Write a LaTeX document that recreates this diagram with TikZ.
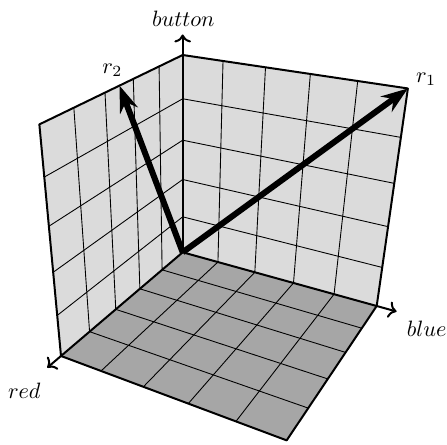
\documentclass[tikz,border=0pt]{standalone}
\usetikzlibrary{arrows.meta}

% point (x,y,z) of the unit cube, seen in perspective (picture units are pixels)
\newcommand{\setpt}[4]{%
  \pgfmathsetmacro\pw{1-0.185*(#2)-0.112*(#3)-0.123*(#4)}%
  \pgfmathsetmacro\px{182.7+(-99.19*(#2)+172.27*(#3))/\pw}%
  \pgfmathsetmacro\py{252.3+(84.52*(#2)+47.69*(#3)-173.03*(#4))/\pw}%
  \coordinate (#1) at (\px,\py);}

\begin{document}
\begin{tikzpicture}[
  x=0.45pt, y=-0.45pt,
  wall/.style={fill=black!14},
  floor/.style={fill=black!35},
  gridline/.style={line width=0.4pt},
  edge/.style={line width=0.9pt, line join=round},
  axis/.style={line width=0.9pt, -{To}},
  vec/.style={line width=2.7pt, -{Stealth[length=12pt, width=8.5pt, inset=4pt]}}
]
\useasboundingbox (0,0) rectangle (447,445);

% corners of the box
\setpt{O}{0}{0}{0}
\setpt{X}{1}{0}{0}
\setpt{Y}{0}{1}{0}
\setpt{Z}{0}{0}{1}
\setpt{XY}{1}{1}{0}
\setpt{XZ}{1}{0}{1}
\setpt{YZ}{0}{1}{1}
\setpt{R2}{0.5}{0}{1}

% axis ends
\setpt{red}{1.09}{0}{0}
\setpt{blue}{0}{1.09}{0}
\setpt{button}{0}{0}{1.09}

% walls and floor
\fill[wall] (O) -- (X) -- (XZ) -- (Z) -- cycle;
\fill[wall] (O) -- (Y) -- (YZ) -- (Z) -- cycle;
\fill[floor] (O) -- (X) -- (XY) -- (Y) -- cycle;

% grid
\foreach \i in {1,...,4} {
  \setpt{gx0}{\i/5}{0}{0}
  \setpt{gxy}{\i/5}{1}{0}
  \setpt{gxz}{\i/5}{0}{1}
  \setpt{gy0}{0}{\i/5}{0}
  \setpt{gyx}{1}{\i/5}{0}
  \setpt{gyz}{0}{\i/5}{1}
  \setpt{gz0}{0}{0}{\i/5}
  \setpt{gzx}{1}{0}{\i/5}
  \setpt{gzy}{0}{1}{\i/5}
  \draw[gridline] (gx0) -- (gxy) (gx0) -- (gxz);
  \draw[gridline] (gy0) -- (gyx) (gy0) -- (gyz);
  \draw[gridline] (gz0) -- (gzx) (gz0) -- (gzy);
}

% borders
\draw[edge] (X) -- (XZ) -- (Z) -- (YZ) -- (Y);
\draw[edge] (X) -- (XY) -- (Y);

% axes
\draw[axis] (O) -- (red);
\draw[axis] (O) -- (blue);
\draw[axis] (O) -- (button);

% vectors
\draw[vec] (O) -- (YZ);
\draw[vec] (O) -- (R2);

% labels
\node (lbutton) at (183.3,18.3) {$button$};
\node (lred) at (24.3,390.7) {$red$};
\node (lblue) at (426.7,328.3) {$blue$};
\node (lr1) at (426,79) {$r_1$};
\node (lr2) at (112.3,70) {$r_2$};
\end{tikzpicture}
\end{document}
